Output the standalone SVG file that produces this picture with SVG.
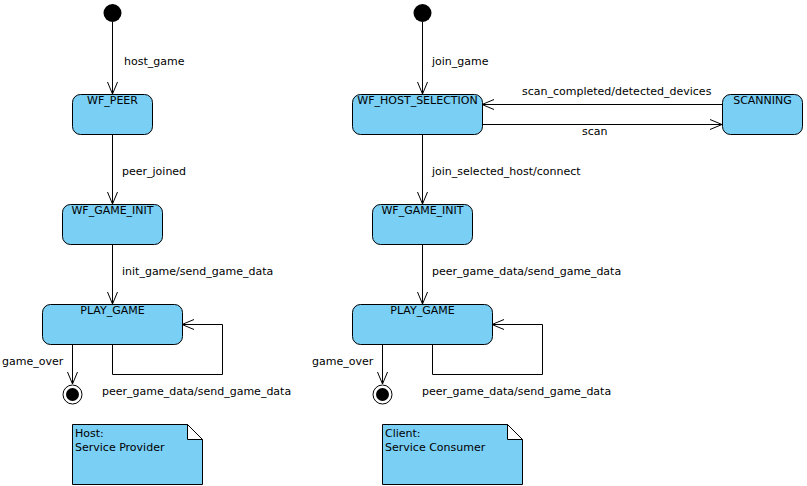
<svg xmlns="http://www.w3.org/2000/svg" width="807" height="486" viewBox="0 0 807 486">
  <style>
    .state { fill: #7acff5; stroke: #000; stroke-width: 1; }
    .note { fill: #7acff5; stroke: #000; stroke-width: 1; }
    .fold { fill: #fff; stroke: #000; stroke-width: 1; }
    .edge { fill: none; stroke: #000; stroke-width: 1; }
    .head { fill: none; stroke: #000; stroke-width: 1; }
    text { font-family: "DejaVu Sans", "Liberation Sans", sans-serif; font-size: 11px; fill: #000; }
    .c { text-anchor: middle; }
  </style>
  <rect width="807" height="486" fill="#fff"/>

  <!-- connectors -->
  <g id="connectors">
    <!-- host side -->
    <path class="edge" d="M112.5,22 V94"/>
    <path class="head" d="M107.5,82 L112.5,94 L117.5,82"/>
    <path class="edge" d="M112.5,134 V204"/>
    <path class="head" d="M107.5,192 L112.5,204 L117.5,192"/>
    <path class="edge" d="M112.5,244 V304"/>
    <path class="head" d="M107.5,292 L112.5,304 L117.5,292"/>
    <path class="edge" d="M112.5,344 V374.5 H222.5 V324.5 H182"/>
    <path class="head" d="M194,319.5 L182,324.5 L194,329.5"/>
    <path class="edge" d="M72.5,344 V384"/>
    <path class="head" d="M67.5,372 L72.5,384 L77.5,372"/>
    <text x="124" y="65">host_game</text>
    <text x="122" y="175">peer_joined</text>
    <text x="122" y="275">init_game/send_game_data</text>
    <text x="2" y="365">game_over</text>
    <text x="102" y="395">peer_game_data/send_game_data</text>

    <!-- client side -->
    <path class="edge" d="M422.5,22 V94"/>
    <path class="head" d="M417.5,82 L422.5,94 L427.5,82"/>
    <path class="edge" d="M722,104.5 H482"/>
    <path class="head" d="M494,99.5 L482,104.5 L494,109.5"/>
    <path class="edge" d="M482,124.5 H722"/>
    <path class="head" d="M710,119.5 L722,124.5 L710,129.5"/>
    <path class="edge" d="M422.5,134 V204"/>
    <path class="head" d="M417.5,192 L422.5,204 L427.5,192"/>
    <path class="edge" d="M422.5,244 V304"/>
    <path class="head" d="M417.5,292 L422.5,304 L427.5,292"/>
    <path class="edge" d="M432.5,344 V374.5 H542.5 V324.5 H492"/>
    <path class="head" d="M504,319.5 L492,324.5 L504,329.5"/>
    <path class="edge" d="M382.5,344 V384"/>
    <path class="head" d="M377.5,372 L382.5,384 L387.5,372"/>
    <text x="432" y="65">join_game</text>
    <text x="522" y="95">scan_completed/detected_devices</text>
    <text x="582" y="135">scan</text>
    <text x="432" y="175">join_selected_host/connect</text>
    <text x="432" y="275">peer_game_data/send_game_data</text>
    <text x="312" y="365">game_over</text>
    <text x="422" y="395">peer_game_data/send_game_data</text>
  </g>

  <!-- host states -->
  <g id="host_start"><circle cx="112.5" cy="13" r="9" fill="#000"/></g>
  <g id="host_wf_peer">
    <rect class="state" x="72.5" y="94.5" width="80" height="40" rx="8"/>
    <text class="c" x="112.5" y="104">WF_PEER</text>
  </g>
  <g id="host_wf_game_init">
    <rect class="state" x="62.5" y="204.5" width="100" height="40" rx="8"/>
    <text class="c" x="112.5" y="214">WF_GAME_INIT</text>
  </g>
  <g id="host_play_game">
    <rect class="state" x="42.5" y="304.5" width="140" height="40" rx="8"/>
    <text class="c" x="112.5" y="314">PLAY_GAME</text>
  </g>
  <g id="host_end">
    <circle cx="72.5" cy="394.5" r="9.5" fill="#fff" stroke="#000"/>
    <circle cx="72.5" cy="394.5" r="6.5" fill="#000"/>
  </g>
  <g id="host_note">
    <path class="note" d="M72.5,424.5 H187.5 L202.5,439.5 V484.5 H72.5 Z"/>
    <path class="fold" d="M187.5,424.5 V439.5 H202.5 Z"/>
    <text x="75" y="437">Host:</text>
    <text x="75" y="451">Service Provider</text>
  </g>

  <!-- client states -->
  <g id="client_start"><circle cx="422.5" cy="13" r="9" fill="#000"/></g>
  <g id="client_wf_host_selection">
    <rect class="state" x="352.5" y="94.5" width="130" height="40" rx="8"/>
    <text class="c" x="417.5" y="104">WF_HOST_SELECTION</text>
  </g>
  <g id="client_scanning">
    <rect class="state" x="722.5" y="94.5" width="80" height="40" rx="8"/>
    <text class="c" x="762.5" y="104">SCANNING</text>
  </g>
  <g id="client_wf_game_init">
    <rect class="state" x="372.5" y="204.5" width="100" height="40" rx="8"/>
    <text class="c" x="422.5" y="214">WF_GAME_INIT</text>
  </g>
  <g id="client_play_game">
    <rect class="state" x="352.5" y="304.5" width="140" height="40" rx="8"/>
    <text class="c" x="422.5" y="314">PLAY_GAME</text>
  </g>
  <g id="client_end">
    <circle cx="382.5" cy="394.5" r="9.5" fill="#fff" stroke="#000"/>
    <circle cx="382.5" cy="394.5" r="6.5" fill="#000"/>
  </g>
  <g id="client_note">
    <path class="note" d="M382.5,424.5 H507.5 L522.5,439.5 V484.5 H382.5 Z"/>
    <path class="fold" d="M507.5,424.5 V439.5 H522.5 Z"/>
    <text x="385" y="437">Client:</text>
    <text x="385" y="451">Service Consumer</text>
  </g>
</svg>
